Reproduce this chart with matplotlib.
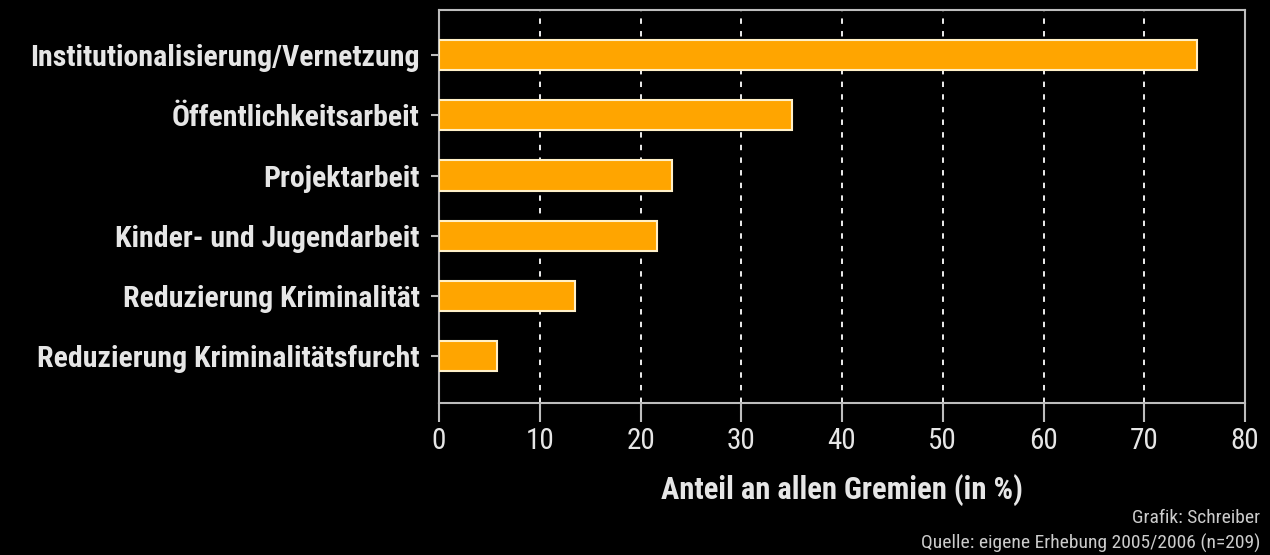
import matplotlib
matplotlib.use("Agg")
import matplotlib.pyplot as plt
from matplotlib import font_manager

categories = [
    "Institutionalisierung/Vernetzung",
    "Öffentlichkeitsarbeit",
    "Projektarbeit",
    "Kinder- und Jugendarbeit",
    "Reduzierung Kriminalität",
    "Reduzierung Kriminalitätsfurcht",
]
values = [75.2, 35.0, 23.1, 21.6, 13.5, 5.8]
x_ticks = [0, 10, 20, 30, 40, 50, 60, 70, 80]

# pick a narrow sans if one is around, else Roboto
available = set(f.name for f in font_manager.fontManager.ttflist)
narrow = 'Roboto'
for name in ['Liberation Sans Narrow', 'Arial Narrow', 'Roboto Condensed', 'Archivo Narrow', 'PT Sans Narrow', 'Open Sans Condensed']:
    if name in available:
        narrow = name
        break
plt.rcParams['font.family'] = [narrow, 'DejaVu Sans']

fg = '#e6e6e6'
spine_c = '#bdbdbd'

fig = plt.figure(figsize=(12.7, 5.55), dpi=100, facecolor='black')
ax = fig.add_axes([439 / 1270, 1 - 403 / 555, (1245 - 439) / 1270, (403 - 10) / 555])
ax.set_facecolor('black')

pos = list(range(len(categories)))
ax.barh(pos, values, height=0.5, color='#ffa500', edgecolor='#fff0c8', linewidth=1.5, zorder=3)

ax.set_xlim(0, 80)
ax.set_ylim(5.78, -0.75)
ax.set_xticks(x_ticks)
ax.set_xticklabels([str(t) for t in x_ticks], fontsize=21, color=fg)
ax.set_yticks(pos)
ax.set_yticklabels(categories, fontsize=21.5, fontweight='bold', color=fg)

ax.xaxis.grid(True, color='white', linestyle=(0, (3, 4)), linewidth=1.3, zorder=1)
for s in ax.spines.values():
    s.set_color(spine_c)
    s.set_linewidth(1.5)
ax.tick_params(axis='x', colors=spine_c, length=14, width=1.5, pad=3, labelcolor=fg)
ax.tick_params(axis='y', colors=spine_c, length=6, width=1.5, pad=8, labelcolor=fg)

ax.set_xlabel("Anteil an allen Gremien (in %)", fontsize=22, fontweight='bold', color=fg, labelpad=14)

fig.text(1260 / 1270, 1 - 518 / 555, "Grafik: Schreiber", ha='right', va='center', fontsize=14, color='#cccccc')
fig.text(1260 / 1270, 1 - 543 / 555, "Quelle: eigene Erhebung 2005/2006 (n=209)", ha='right', va='center', fontsize=14, color='#cccccc')

fig.savefig("out.png", dpi=100, facecolor='black')
